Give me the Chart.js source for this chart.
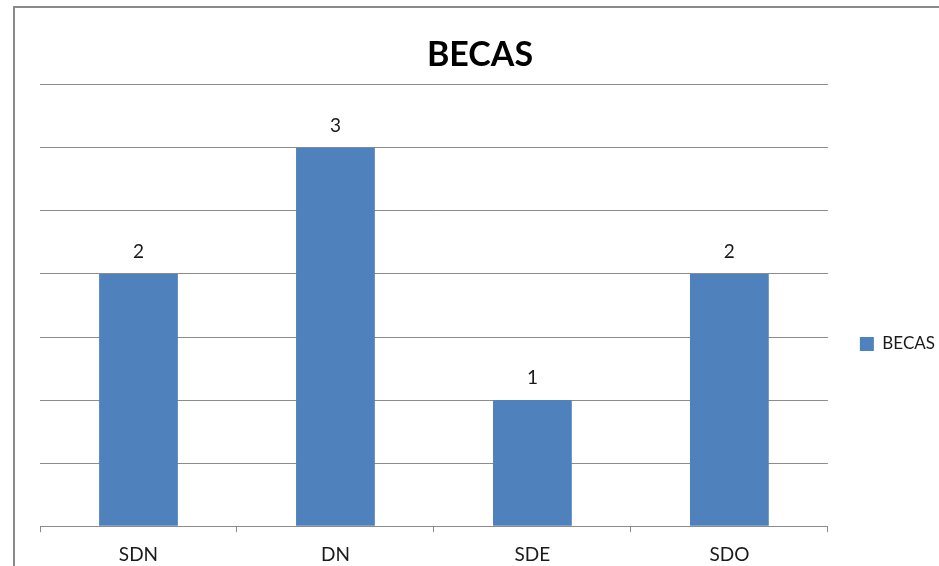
<!DOCTYPE html>
<html lang="es">
<head>
<meta charset="utf-8">
<title>BECAS</title>
<script src="https://cdn.jsdelivr.net/npm/chart.js@4.4.1/dist/chart.umd.min.js"></script>
<style>
    html, body { margin: 0; padding: 0; background: #ffffff; overflow: hidden; }
    #frame {
        position: absolute;
        left: 13px;
        top: 6px;
        border-left: 2px solid #8a8a8a;
        border-top: 2px solid #8a8a8a;
        width: 960px;
        height: 600px;
    }
    #chartBox { position: relative; width: 950px; height: 575px; }
</style>
</head>
<body>
<div id="frame">
    <div id="chartBox"><canvas id="becasChart"></canvas></div>
</div>
<script>
// Datos del gráfico
const categorias = ['SDN', 'DN', 'SDE', 'SDO'];
const becas = [2, 3, 1, 2];
const nombreSerie = 'BECAS';
const tituloGrafico = 'BECAS';

const fuente = 'Lato, "Open Sans", sans-serif';
const colorBarra = '#4f81bd';
const colorLinea = '#8c8c8c';
const colorTexto = '#1a1a1a';

// Plugin simple para escribir el valor encima de cada barra
const etiquetasValor = {
    id: 'etiquetasValor',
    afterDatasetsDraw(chart) {
        const ctx = chart.ctx;
        const meta = chart.getDatasetMeta(0);
        ctx.save();
        ctx.font = '19px ' + fuente;
        ctx.fillStyle = colorTexto;
        ctx.textAlign = 'center';
        ctx.textBaseline = 'alphabetic';
        meta.data.forEach((barra, i) => {
            ctx.fillText(String(chart.data.datasets[0].data[i]), barra.x, barra.y - 16);
        });
        ctx.restore();
    }
};

const ctx = document.getElementById('becasChart').getContext('2d');
new Chart(ctx, {
    type: 'bar',
    data: {
        labels: categorias,
        datasets: [{
            label: nombreSerie,
            data: becas,
            backgroundColor: colorBarra,
            borderWidth: 0,
            barPercentage: 1,
            categoryPercentage: 0.4
        }]
    },
    options: {
        responsive: true,
        maintainAspectRatio: false,
        animation: false,
        layout: { padding: { left: 0, right: 20, top: 0, bottom: 6 } },
        scales: {
            x: {
                grid: {
                    offset: true,
                    drawOnChartArea: false,
                    drawTicks: true,
                    tickLength: 6,
                    color: colorLinea
                },
                border: { display: true, color: colorLinea, width: 1 },
                ticks: {
                    padding: 11,
                    color: colorTexto,
                    font: { family: fuente, size: 19 }
                }
            },
            y: {
                min: 0,
                max: 3.5,
                ticks: { display: false, stepSize: 0.5 },
                grid: { color: colorLinea, drawTicks: false },
                border: { display: false },
                afterFit(scale) { scale.width = 25; } // espacio a la izquierda del área
            }
        },
        plugins: {
            title: {
                display: true,
                text: tituloGrafico,
                color: '#000000',
                font: { family: fuente, size: 34, weight: 'bold', lineHeight: 1.2 },
                padding: { top: 27, bottom: 9 }
            },
            legend: {
                display: true,
                position: 'right',
                fullSize: false,
                title: { display: true, text: ' ', font: { size: 10, lineHeight: 1 }, padding: { top: 0, bottom: 67 } },
                labels: {
                    boxWidth: 14,
                    boxHeight: 14,
                    padding: 32,
                    color: colorTexto,
                    font: { family: fuente, size: 17 }
                }
            },
            tooltip: { enabled: false }
        }
    },
    plugins: [etiquetasValor]
});
</script>
</body>
</html>
